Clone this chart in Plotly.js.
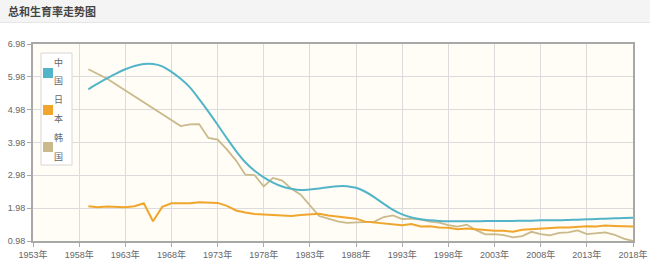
<!DOCTYPE html>
<html>
<head>
<meta charset="utf-8">
<script src="https://cdn.plot.ly/plotly-3.0.1.min.js"></script>
<style>
  html, body { margin: 0; padding: 0; background: #fff; }
  #wrap { position: relative; width: 650px; height: 269px; overflow: hidden; }
  #head { position: absolute; left: 0; top: 0; width: 650px; height: 23px; background: #f4f4f4;
          border-bottom: 1px solid #e6e6e6; z-index: 5;
          font-family: "Noto Sans CJK SC", sans-serif; font-weight: bold; font-size: 11px;
          color: #444; line-height: 23px; padding-left: 8px; box-sizing: border-box; }
  #chart { position: absolute; left: 0; top: 0; width: 650px; height: 269px; }
</style>
</head>
<body>
<div id="wrap">
  <div id="head">总和生育率走势图</div>
  <div id="chart"></div>
</div>
<script>
const years = [];
for (let y = 1959; y <= 2018; y++) years.push(y);

const seriesNames = ["中国", "日本", "韩国"];

const china = [5.60,5.77,5.93,6.08,6.21,6.31,6.37,6.37,6.30,6.13,
  5.92,5.66,5.30,4.92,4.52,4.11,3.72,3.38,3.12,2.92,
  2.76,2.64,2.57,2.53,2.55,2.58,2.62,2.65,2.65,2.60,
  2.48,2.31,2.11,1.93,1.79,1.70,1.64,1.61,1.59,1.58,
  1.58,1.58,1.58,1.59,1.59,1.59,1.59,1.60,1.60,1.61,
  1.61,1.61,1.62,1.63,1.64,1.65,1.66,1.67,1.68,1.69];

const japan = [2.04,2.01,2.03,2.01,2.01,2.04,2.13,1.58,2.02,2.13,
  2.13,2.13,2.16,2.14,2.14,2.05,1.91,1.85,1.80,1.79,
  1.77,1.75,1.74,1.77,1.80,1.81,1.76,1.72,1.69,1.66,
  1.57,1.54,1.53,1.50,1.46,1.50,1.42,1.43,1.39,1.38,
  1.34,1.36,1.33,1.32,1.29,1.29,1.26,1.32,1.34,1.37,
  1.37,1.39,1.39,1.41,1.43,1.42,1.45,1.44,1.43,1.42];

const korea = [6.21,6.07,5.93,5.75,5.57,5.39,5.21,5.03,4.84,4.66,
  4.48,4.53,4.54,4.12,4.07,3.77,3.43,3.00,2.99,2.64,
  2.90,2.82,2.57,2.39,2.06,1.74,1.66,1.58,1.53,1.55,
  1.56,1.57,1.71,1.76,1.65,1.66,1.63,1.57,1.54,1.46,
  1.42,1.48,1.31,1.18,1.19,1.16,1.09,1.13,1.26,1.19,
  1.15,1.23,1.24,1.30,1.19,1.21,1.24,1.17,1.05,0.98];

const xTickVals = [1953,1958,1963,1968,1973,1978,1983,1988,1993,1998,2003,2008,2013,2018];
const xTickText = xTickVals.map(v => v + "年");
const yTickVals = [0.98,1.98,2.98,3.98,4.98,5.98,6.98];
const yTickText = yTickVals.map(v => v.toFixed(2));

const colors = ["#52b4c9", "#f0a62c", "#c9b98b"];

const traces = [
  { x: years, y: korea, mode: "lines", name: seriesNames[2], line: { color: colors[2], width: 1.8 } },
  { x: years, y: japan, mode: "lines", name: seriesNames[1], line: { color: colors[1], width: 2 } },
  { x: years, y: china, mode: "lines", name: seriesNames[0], line: { color: colors[0], width: 2, shape: "spline", smoothing: 1 } }
];

// plot area in pixels
const PL = 33, PR = 633, PT = 44, PB = 241;
const px = v => (v - PL) / (PR - PL);
const py = v => (PB - v) / (PB - PT);

const shapes = [
  { type: "rect", xref: "paper", yref: "paper", x0: px(41), x1: px(72), y0: py(165), y1: py(53),
    fillcolor: "#ffffff", line: { color: "#d6d6d6", width: 1 }, layer: "above" }
];
const squareCenters = [73, 110, 147];
squareCenters.forEach((c, i) => {
  shapes.push({ type: "rect", xref: "paper", yref: "paper", x0: px(43), x1: px(53), y0: py(c + 5), y1: py(c - 5),
    fillcolor: colors[i], line: { color: colors[i], width: 0 }, layer: "above" });
});
const charPos = [[62, 80], [99, 118], [137, 156]];
const annotations = [];
seriesNames.forEach((n, i) => {
  [...n].forEach((ch, j) => {
    annotations.push({ xref: "paper", yref: "paper", x: px(58), y: py(charPos[i][j]), text: ch,
      showarrow: false, xanchor: "center", yanchor: "middle",
      font: { family: "Noto Sans CJK SC", size: 9, color: "#666" } });
  });
});

const layout = {
  width: 650, height: 269,
  margin: { l: PL, r: 650 - PR, t: PT, b: 269 - PB, pad: 0 },
  paper_bgcolor: "#ffffff",
  plot_bgcolor: "#fffdf5",
  showlegend: false,
  font: { family: "Liberation Sans, Noto Sans CJK SC, sans-serif", size: 9, color: "#666" },
  xaxis: {
    range: [1953, 2018], tickvals: xTickVals, ticktext: xTickText,
    showgrid: true, gridcolor: "#dcdcdc", gridwidth: 1,
    zeroline: false, showline: true, linecolor: "#a8a8a8", linewidth: 2, mirror: true,
    ticks: "outside", ticklen: 4, tickcolor: "#aaa",
    tickfont: { family: "Liberation Sans, Noto Sans CJK SC, sans-serif", size: 9, color: "#666" }
  },
  yaxis: {
    range: [0.98, 6.98], tickvals: yTickVals, ticktext: yTickText,
    showgrid: true, gridcolor: "#dcdcdc", gridwidth: 1,
    zeroline: false, showline: true, linecolor: "#a8a8a8", linewidth: 2, mirror: true,
    ticks: "outside", ticklen: 4, tickcolor: "#aaa",
    tickfont: { family: "Liberation Sans, sans-serif", size: 9, color: "#666" }
  },
  shapes: shapes,
  annotations: annotations
};

Plotly.newPlot("chart", traces, layout, { displayModeBar: false, staticPlot: true });
</script>
</body>
</html>
